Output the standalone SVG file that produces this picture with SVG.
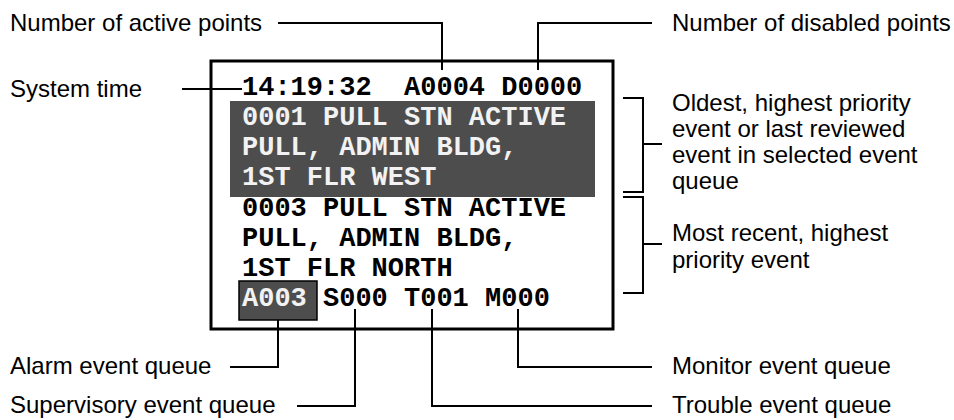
<svg xmlns="http://www.w3.org/2000/svg" width="954" height="420" viewBox="0 0 954 420">
<style>
.lbl{font-family:"Liberation Sans",Arial,sans-serif;font-size:24px;fill:#000}
.mono{font-family:"Liberation Mono","Courier New",monospace;font-size:27px;font-weight:bold;fill:#000;white-space:pre}
.inv{fill:#f2f2f2}
.ln{fill:none;stroke:#000;stroke-width:2}
</style>
<rect width="954" height="420" fill="#fff"/>
<g id="display">
<rect x="211" y="61" width="402" height="268" fill="#fff" stroke="#000" stroke-width="3"/>
<rect x="230" y="101" width="365" height="96" fill="#4d4d4d"/>
<text class="mono" x="242" y="95" xml:space="preserve">14:19:32  A0004 D0000</text>
<text class="mono inv" x="242" y="125">0001 PULL STN ACTIVE</text>
<text class="mono inv" x="242" y="155">PULL, ADMIN BLDG,</text>
<text class="mono inv" x="242" y="185">1ST FLR WEST</text>
<text class="mono" x="242" y="216">0003 PULL STN ACTIVE</text>
<text class="mono" x="242" y="246">PULL, ADMIN BLDG,</text>
<text class="mono" x="242" y="276">1ST FLR NORTH</text>
<rect x="239" y="281" width="78" height="39" fill="#4d4d4d" stroke="#000" stroke-width="1.5"/>
<text class="mono inv" x="242" y="306">A003</text>
<text class="mono" x="323" y="306">S000 T001 M000</text>
</g>
<g id="labels">
<text class="lbl" x="10" y="31">Number of active points</text>
<text class="lbl" x="672" y="31">Number of disabled points</text>
<text class="lbl" x="10" y="97">System time</text>
<text class="lbl" x="672" y="111">Oldest, highest priority</text>
<text class="lbl" x="672" y="137">event or last reviewed</text>
<text class="lbl" x="672" y="163">event in selected event</text>
<text class="lbl" x="672" y="189">queue</text>
<text class="lbl" x="672" y="241">Most recent, highest</text>
<text class="lbl" x="672" y="268">priority event</text>
<text class="lbl" x="10" y="374">Alarm event queue</text>
<text class="lbl" x="10" y="413">Supervisory event queue</text>
<text class="lbl" x="672" y="374">Monitor event queue</text>
<text class="lbl" x="672" y="413">Trouble event queue</text>
</g>
<g id="connectors">
<path class="ln" d="M278,23 H442 V70"/>
<path class="ln" d="M652,23 H538 V70"/>
<path class="ln" d="M182,89 H242"/>
<path class="ln" d="M623,98 H643 V192 H623 M643,144 H662"/>
<path class="ln" d="M623,197 H643 V293 H623 M643,244 H662"/>
<path class="ln" d="M278,320 V367 H230"/>
<path class="ln" d="M355,309 V406 H297"/>
<path class="ln" d="M432,309 V406 H652"/>
<path class="ln" d="M518,309 V367 H652"/>
</g>
</svg>
